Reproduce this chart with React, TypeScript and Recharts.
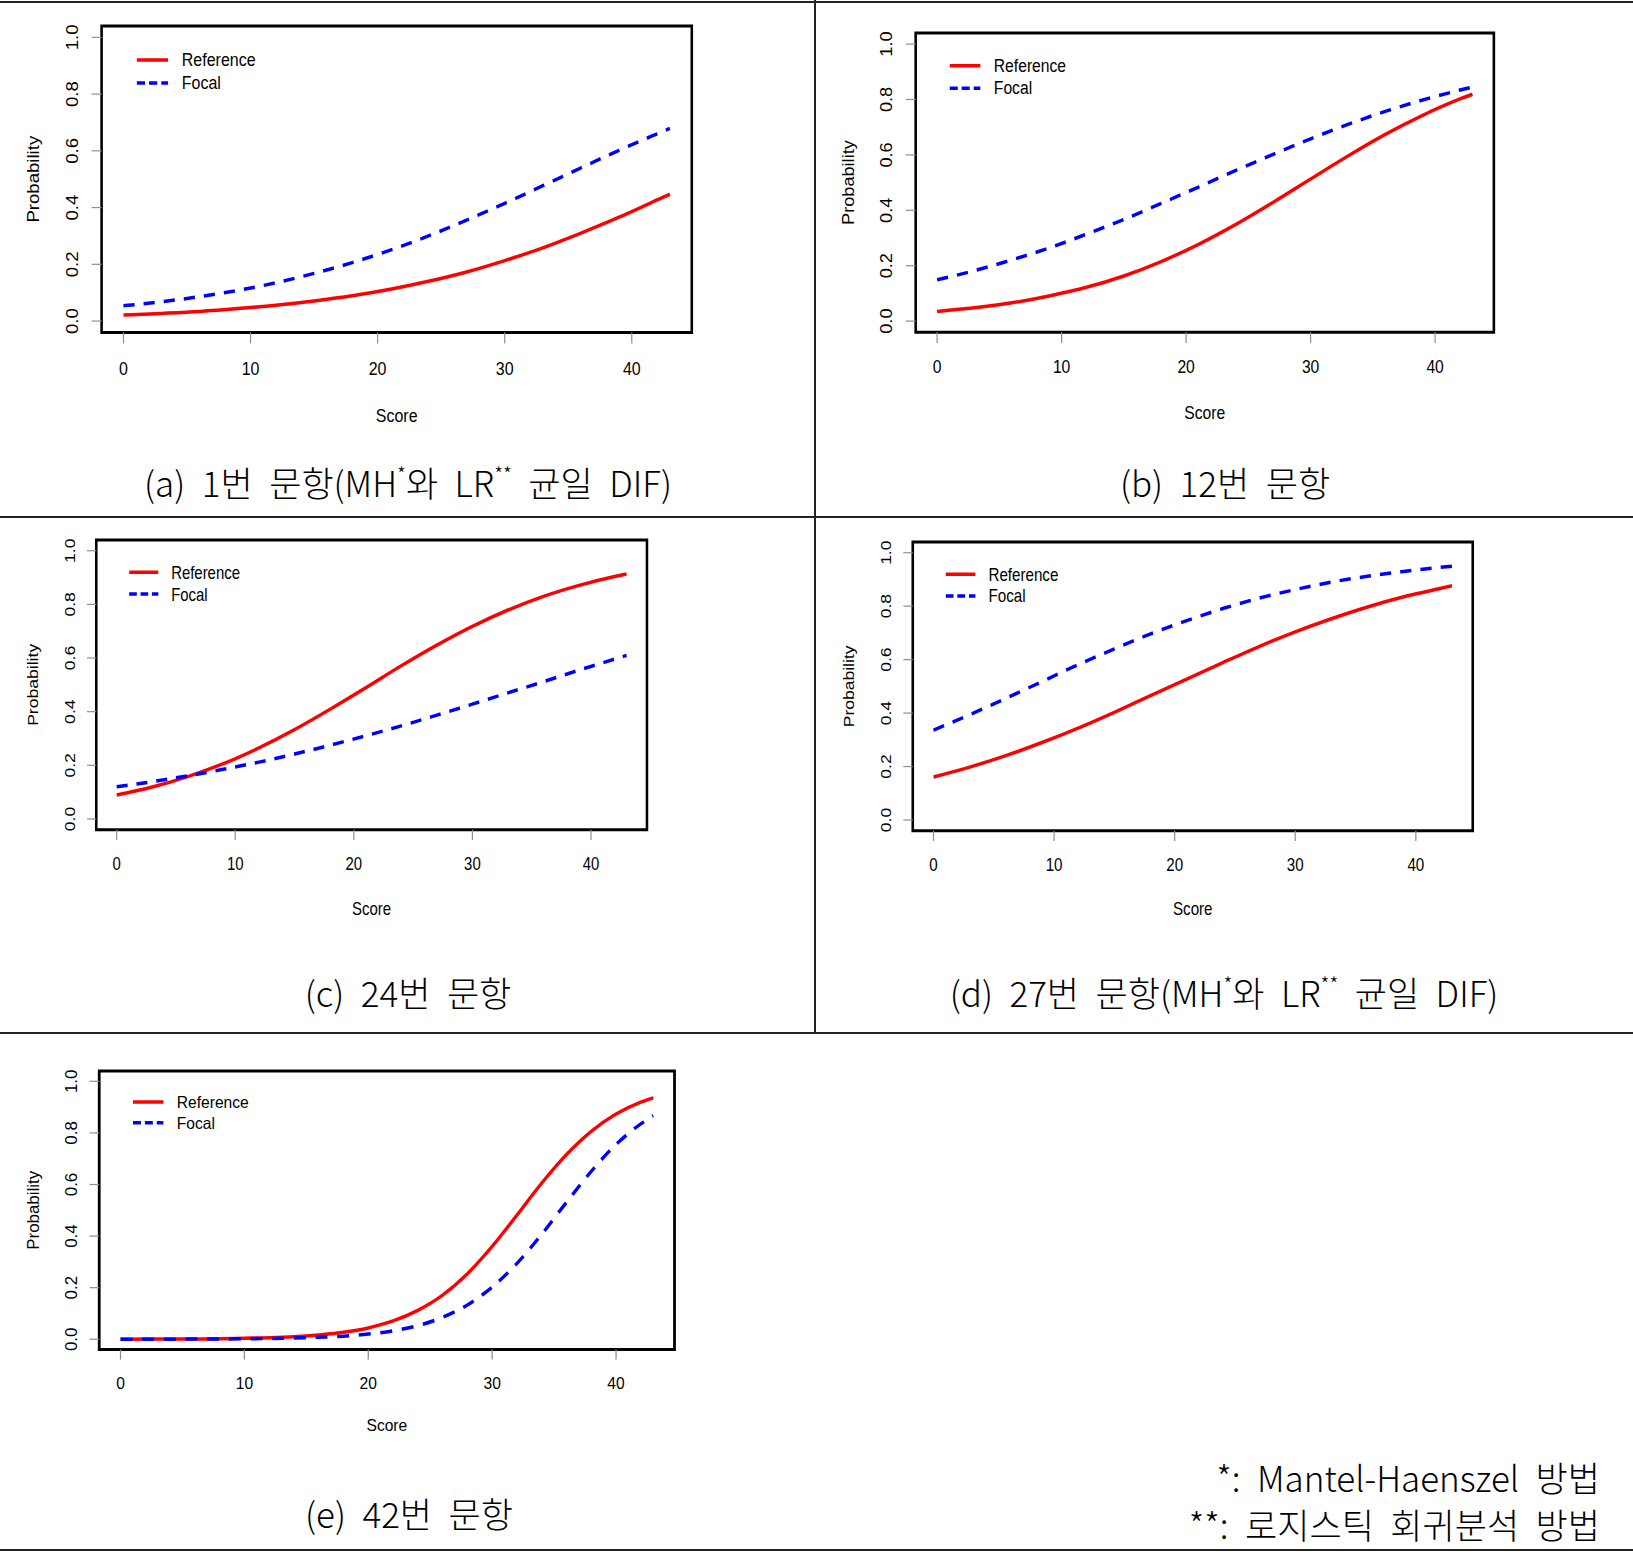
import React from "react";
import { LineChart, Line, XAxis, YAxis, ReferenceArea, Legend } from "recharts";

// score grid (panel e needs a finer grid for its steep part)
const SCORES = [0, 3, 6, 9, 12, 15, 18, 21, 24, 27, 30, 33, 36, 39, 42, 43];
const SCORES_E = [0, 2, 4, 6, 8, 10, 12, 14, 16, 18, 20, 22, 24, 26, 28, 30, 32, 34, 36, 38, 40, 42, 43];

// (a) item 1
const A_REF = [0.021, 0.027, 0.034, 0.044, 0.056, 0.071, 0.089, 0.112, 0.14, 0.173, 0.213, 0.258, 0.31, 0.366, 0.427, 0.447];
const A_FOC = [0.054, 0.068, 0.086, 0.108, 0.135, 0.168, 0.206, 0.25, 0.3, 0.356, 0.415, 0.477, 0.54, 0.602, 0.66, 0.679];
// (b) item 12
const B_REF = [0.035, 0.048, 0.066, 0.091, 0.122, 0.163, 0.215, 0.277, 0.349, 0.429, 0.513, 0.596, 0.674, 0.743, 0.802, 0.819];
const B_FOC = [0.149, 0.182, 0.221, 0.264, 0.314, 0.367, 0.425, 0.484, 0.544, 0.602, 0.658, 0.71, 0.757, 0.798, 0.834, 0.845];
// (c) item 24
const C_REF = [0.089, 0.119, 0.158, 0.206, 0.265, 0.333, 0.409, 0.489, 0.571, 0.648, 0.718, 0.779, 0.83, 0.871, 0.904, 0.913];
const C_FOC = [0.12, 0.139, 0.161, 0.185, 0.212, 0.242, 0.275, 0.31, 0.347, 0.387, 0.428, 0.47, 0.512, 0.555, 0.596, 0.61];
// (d) item 27
const D_REF = [0.161, 0.198, 0.241, 0.29, 0.344, 0.403, 0.465, 0.527, 0.589, 0.649, 0.704, 0.753, 0.797, 0.835, 0.866, 0.876];
const D_FOC = [0.336, 0.394, 0.455, 0.518, 0.581, 0.64, 0.696, 0.746, 0.791, 0.83, 0.862, 0.89, 0.912, 0.93, 0.945, 0.949];
// (e) item 42
const E_REF = [0.0, 0.001, 0.001, 0.001, 0.002, 0.004, 0.006, 0.01, 0.017, 0.027, 0.044, 0.071, 0.112, 0.171, 0.254, 0.36, 0.481, 0.605, 0.716, 0.806, 0.873, 0.919, 0.936];
const E_FOC = [0.0, 0.0, 0.0, 0.001, 0.001, 0.002, 0.003, 0.005, 0.008, 0.012, 0.02, 0.033, 0.053, 0.085, 0.133, 0.202, 0.294, 0.407, 0.531, 0.651, 0.755, 0.835, 0.867];

const X_TICKS = [0, 10, 20, 30, 40];
const Y_TICKS = [0, 0.2, 0.4, 0.6, 0.8, 1.0];
const SERIES_NAMES = ["Reference", "Focal"];
const X_LABEL = "Score";
const Y_LABEL = "Probability";

// R pads the axis range by 4% on each side
const X_DOMAIN: [number, number] = [-1.72, 44.72];
const Y_DOMAIN: [number, number] = [-0.04, 1.04];

const PLOT_FONT = "'Liberation Sans', Arial, Helvetica, sans-serif";
const KO_FONT = "'Noto Sans CJK KR', 'Noto Sans', sans-serif";

// the plots are pasted images, squeezed sideways a bit
const SQUEEZE = 0.86;
const BASE_W = 590.2;
const BASE_H = 306.4;

type Box = { left: number; right: number; top: number; bottom: number };

const PANELS: { id: string; scores: number[]; reference: number[]; focal: number[]; box: Box }[] = [
  { id: "a", scores: SCORES, reference: A_REF, focal: A_FOC, box: { left: 101.5, right: 691.7, top: 25.9, bottom: 332.3 } },
  { id: "b", scores: SCORES, reference: B_REF, focal: B_FOC, box: { left: 915.6, right: 1493.8, top: 32.9, bottom: 332.1 } },
  { id: "c", scores: SCORES, reference: C_REF, focal: C_FOC, box: { left: 96.6, right: 647.3, top: 540, bottom: 829.7 } },
  { id: "d", scores: SCORES, reference: D_REF, focal: D_FOC, box: { left: 912.7, right: 1472.7, top: 542, bottom: 830.7 } },
  { id: "e", scores: SCORES_E, reference: E_REF, focal: E_FOC, box: { left: 99.6, right: 674.9, top: 1070.7, bottom: 1349.3 } },
];

const CAPTIONS = [
  { id: "a", x: 408, y: 482, label: "(a)", item: "1번", note: true },
  { id: "b", x: 1225, y: 482, label: "(b)", item: "12번", note: false },
  { id: "c", x: 408, y: 992, label: "(c)", item: "24번", note: false },
  { id: "d", x: 1224, y: 992, label: "(d)", item: "27번", note: true },
  { id: "e", x: 409, y: 1513, label: "(e)", item: "42번", note: false },
];

const supStyle: React.CSSProperties = {
  position: "relative",
  top: "-0.75em",
  fontSize: 20,
  lineHeight: 0,
};

function IccPanel({ panel }: { panel: (typeof PANELS)[number] }) {
  const { box } = panel;
  const pw = box.right - box.left;
  const ph = box.bottom - box.top;
  const k = ph / BASE_H;
  const sx = (SQUEEZE * (pw / BASE_W)) / k;
  const iw = pw / sx;
  const padL = 110 * k;
  const padR = 10;
  const padT = 10;
  const padB = 120 * k;
  const fs = 18.6 * k;
  const xTickLen = 11 * k;
  const yTickLen = 11.6 * k;

  const data = panel.scores.map((s, i) => ({
    score: s,
    reference: panel.reference[i],
    focal: panel.focal[i],
  }));

  return (
    <div
      style={{
        position: "absolute",
        left: box.left - padL * sx,
        top: box.top - padT,
        transform: `scaleX(${sx})`,
        transformOrigin: "0 0",
      }}
    >
      <LineChart
        width={iw + padL + padR}
        height={ph + padT + padB}
        data={data}
        margin={{ top: padT, right: padR, bottom: 0, left: 0 }}
      >
        <XAxis
          type="number"
          dataKey="score"
          domain={X_DOMAIN}
          ticks={X_TICKS}
          allowDataOverflow
          height={padB}
          axisLine={false}
          tickSize={xTickLen}
          tickMargin={0}
          tickLine={{ stroke: "#8f8f8f", strokeWidth: 1.4 }}
          tick={(p: any) => (
            <text
              x={p.x}
              y={p.y - xTickLen + 36 * k}
              textAnchor="middle"
              dominantBaseline="central"
              fontSize={fs}
              fontFamily={PLOT_FONT}
              fill="#000"
            >
              {p.payload.value}
            </text>
          )}
          label={{
            content: () => (
              <text
                x={padL + iw / 2}
                y={padT + ph + 83 * k}
                textAnchor="middle"
                dominantBaseline="central"
                fontSize={fs}
                fontFamily={PLOT_FONT}
                fill="#000"
              >
                {X_LABEL}
              </text>
            ),
          }}
        />
        <YAxis
          type="number"
          domain={Y_DOMAIN}
          ticks={Y_TICKS}
          allowDataOverflow
          width={padL}
          axisLine={false}
          tickSize={yTickLen}
          tickMargin={0}
          tickLine={{ stroke: "#8f8f8f", strokeWidth: 1.2 }}
          tick={(p: any) => {
            const cx = p.x + yTickLen - 33.7 * k;
            return (
              <text
                x={cx}
                y={p.y}
                transform={`rotate(-90 ${cx} ${p.y})`}
                textAnchor="middle"
                dominantBaseline="central"
                fontSize={fs}
                fontFamily={PLOT_FONT}
                fill="#000"
              >
                {Number(p.payload.value).toFixed(1)}
              </text>
            );
          }}
          label={{
            content: () => {
              const cx = padL - 79 * k;
              const cy = padT + ph / 2;
              return (
                <text
                  x={cx}
                  y={cy}
                  transform={`rotate(-90 ${cx} ${cy})`}
                  textAnchor="middle"
                  dominantBaseline="central"
                  fontSize={fs}
                  fontFamily={PLOT_FONT}
                  fill="#000"
                >
                  {Y_LABEL}
                </text>
              );
            },
          }}
        />
        <ReferenceArea
          x1={X_DOMAIN[0]}
          x2={X_DOMAIN[1]}
          y1={Y_DOMAIN[0]}
          y2={Y_DOMAIN[1]}
          fill="none"
          stroke="#000"
          strokeWidth={3}
        />
        <Line
          type="monotone"
          dataKey="reference"
          name={SERIES_NAMES[0]}
          stroke="#ff0000"
          strokeWidth={3.5}
          dot={false}
          activeDot={false}
          isAnimationActive={false}
        />
        <Line
          type="monotone"
          dataKey="focal"
          name={SERIES_NAMES[1]}
          stroke="#0000ff"
          strokeWidth={3.5}
          strokeDasharray="13 10.5"
          dot={false}
          activeDot={false}
          isAnimationActive={false}
        />
        <Legend
          layout="vertical"
          align="center"
          verticalAlign="middle"
          wrapperStyle={{
            position: "absolute",
            left: padL + 36.7 * k,
            top: padT + 22 * k,
            width: 200 * k,
            height: 50 * k,
          }}
          content={(props: any) => {
            const items = [...(props.payload || [])].sort(
              (a: any, b: any) => SERIES_NAMES.indexOf(a.value) - SERIES_NAMES.indexOf(b.value)
            );
            return (
              <svg width={200 * k} height={50 * k} style={{ display: "block" }}>
                {items.map((entry: any, i: number) => {
                  const y = 12 * k + i * 23 * k;
                  const dashed = entry.dataKey === "focal";
                  return (
                    <g key={entry.value}>
                      <line
                        x1={4 * k}
                        x2={40.3 * k}
                        y1={y}
                        y2={y}
                        stroke={entry.color}
                        strokeWidth={3.5}
                        strokeDasharray={dashed ? `${9.5 * k} ${4.7 * k}` : undefined}
                      />
                      <text
                        x={56.3 * k}
                        y={y}
                        dominantBaseline="central"
                        fontSize={fs}
                        fontFamily={PLOT_FONT}
                        fill="#000"
                      >
                        {entry.value}
                      </text>
                    </g>
                  );
                })}
              </svg>
            );
          }}
        />
      </LineChart>
    </div>
  );
}

function Caption({ c }: { c: (typeof CAPTIONS)[number] }) {
  return (
    <div
      style={{
        position: "absolute",
        left: c.x - 400,
        width: 800,
        top: c.y - 25,
        height: 50,
        lineHeight: "50px",
        textAlign: "center",
        fontFamily: KO_FONT,
        fontSize: 35,
        fontWeight: 300,
        wordSpacing: "0.25em",
        color: "#000",
        whiteSpace: "pre",
      }}
    >
      {c.label} {c.item} 문항
      {c.note ? (
        <>
          (MH<span style={supStyle}>*</span>와 LR<span style={supStyle}>**</span> 균일 DIF)
        </>
      ) : null}
    </div>
  );
}

const rule = (style: React.CSSProperties) => (
  <div style={{ position: "absolute", background: "#222", ...style }} />
);

export default function App() {
  return (
    <div
      style={{
        position: "absolute",
        left: 0,
        top: 0,
        width: 1633,
        height: 1552,
        overflow: "hidden",
        background: "#fff",
      }}
    >
      {rule({ left: 0, top: 0.5, width: 1633, height: 2 })}
      {rule({ left: 0, top: 516, width: 1633, height: 2 })}
      {rule({ left: 0, top: 1032, width: 1633, height: 2 })}
      {rule({ left: 0, top: 1549, width: 1633, height: 2 })}
      {rule({ left: 814, top: 0, width: 2, height: 1033 })}

      {PANELS.map((p) => (
        <IccPanel key={p.id} panel={p} />
      ))}
      {CAPTIONS.map((c) => (
        <Caption key={c.id} c={c} />
      ))}

      <div
        style={{
          position: "absolute",
          left: 0,
          width: 1600,
          top: 1453,
          textAlign: "right",
          fontFamily: KO_FONT,
          fontSize: 35,
          fontWeight: 300,
          wordSpacing: "0.25em",
          lineHeight: "47px",
          whiteSpace: "pre",
          color: "#000",
        }}
      >
        <div>*: Mantel-Haenszel 방법</div>
        <div>**: 로지스틱 회귀분석 방법</div>
      </div>
    </div>
  );
}
